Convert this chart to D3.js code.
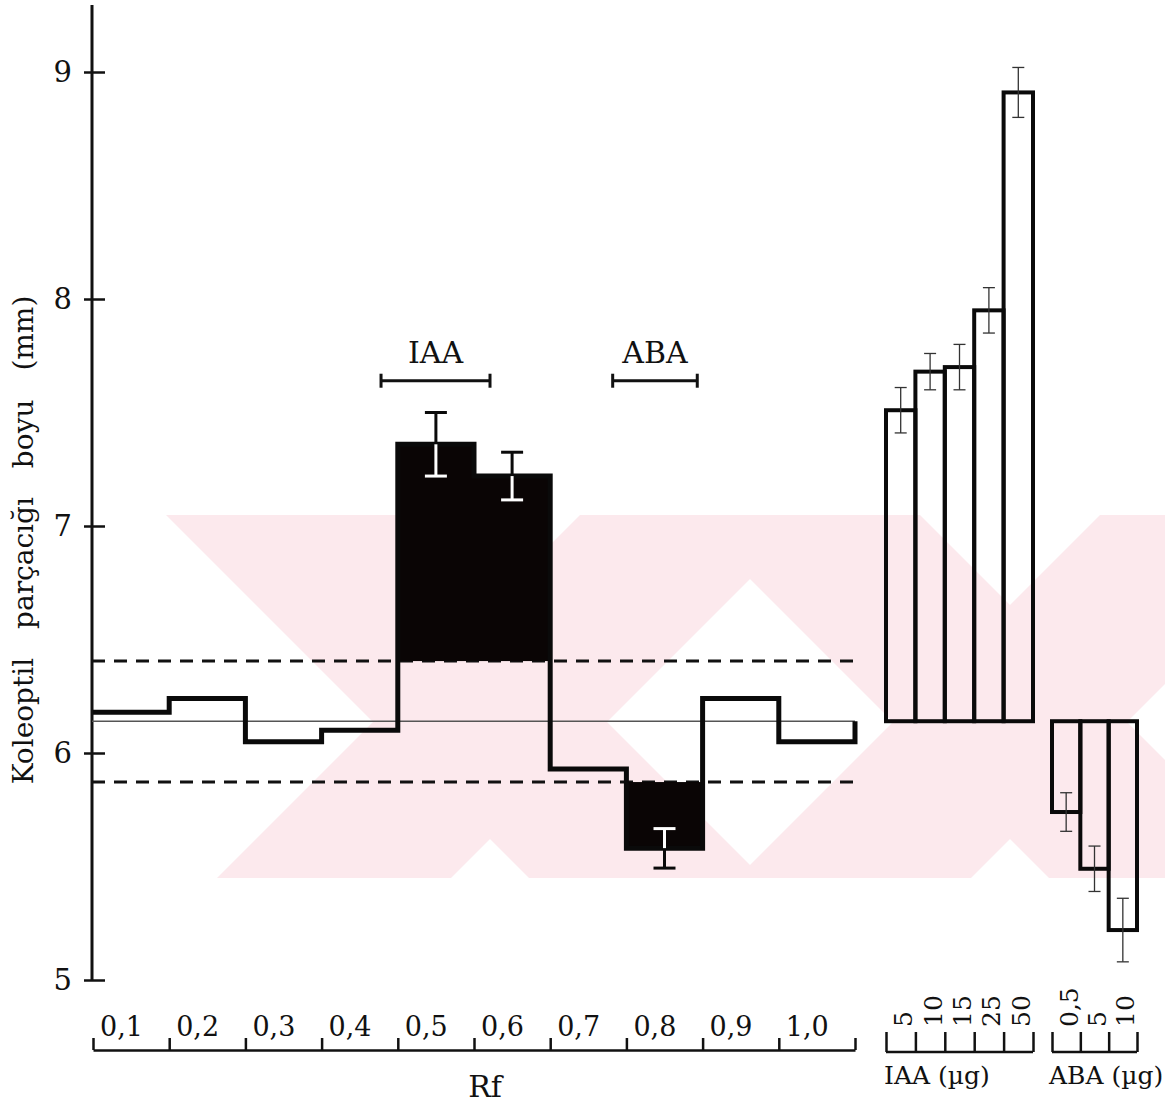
<!DOCTYPE html>
<html>
<head>
<meta charset="utf-8">
<script src="https://cdn.jsdelivr.net/npm/d3@7"></script>
<style>
  body { margin: 0; background: #fff; }
  svg text { font-family: "DejaVu Serif", serif; fill: #111; }
</style>
</head>
<body>
<div id="chart"></div>
<script>
// Rf histogram (koleoptil segment length, mm)
const rfLabels = ["0,1", "0,2", "0,3", "0,4", "0,5", "0,6", "0,7", "0,8", "0,9", "1,0"]
const rfValues = [6.18, 6.24, 6.05, 6.10, 7.36, 7.22, 5.93, 5.58, 6.24, 6.05]
const rfErrors = [null, null, null, null, 0.14, 0.105, null, 0.087, null, null]
const controlValue = 6.14
const upperLimit = 6.405
const lowerLimit = 5.872

// Rf ranges of the standards
const standardNames = ["IAA", "ABA"]
const standardRanges = [[0.378, 0.521], [0.682, 0.793]]

// standard dose responses
const iaaDoses = ["5", "10", "15", "25", "50"]
const iaaValues = [7.51, 7.68, 7.70, 7.95, 8.91]
const iaaErrors = [0.10, 0.08, 0.10, 0.10, 0.11]
const abaDoses = ["0,5", "5", "10"]
const abaValues = [5.74, 5.49, 5.22]
const abaErrors = [0.085, 0.10, 0.14]

const yTicks = [5, 6, 7, 8, 9]

const width = 1165
const height = 1115

const svg = d3.select("#chart").append("svg")
  .attr("width", width)
  .attr("height", height)

const y = d3.scaleLinear().domain([5, 9]).range([980, 72])
const x = d3.scaleLinear().domain([0, 1]).range([93, 855])
const xIaa = d3.scaleBand().domain(iaaDoses).range([886, 1033])
const xAba = d3.scaleBand().domain(abaDoses).range([1052, 1137])

// pale watermark of the scanned page (two large crosses)
svg.append("clipPath")
  .attr("id", "wm-clip")
  .append("rect")
    .attr("x", 165).attr("y", 515)
    .attr("width", 1000).attr("height", 363)
const wm = svg.append("g").attr("clip-path", "url(#wm-clip)")
const armHalf = 117
const reach = 420
;[490, 1010].forEach(function(cx) {
  const cy = 722
  const arms = [
    [[cx - reach - armHalf, cy - reach], [cx - reach + armHalf, cy - reach], [cx + reach + armHalf, cy + reach], [cx + reach - armHalf, cy + reach]],
    [[cx + reach - armHalf, cy - reach], [cx + reach + armHalf, cy - reach], [cx - reach + armHalf, cy + reach], [cx - reach - armHalf, cy + reach]]
  ]
  arms.forEach(function(pts) {
    wm.append("path")
      .attr("d", d3.line()(pts) + "Z")
      .attr("fill", "#fce9ed")
  })
})

// y axis
const yAxis = svg.append("g")
  .attr("transform", "translate(92,0)")
  .call(d3.axisLeft(y).tickValues(yTicks).tickFormat(d3.format("d"))
    .tickSizeInner(-13).tickSizeOuter(0).tickPadding(20))
yAxis.select(".domain").remove()
yAxis.selectAll(".tick line")
  .attr("x1", -8)
  .attr("stroke", "#111")
  .attr("stroke-width", 2.5)
yAxis.selectAll(".tick text")
  .attr("font-size", 29)
  .attr("font-family", "DejaVu Serif")
  .attr("fill", "#111")
yAxis.append("line")
  .attr("y1", y(5))
  .attr("y2", 5)
  .attr("stroke", "#111")
  .attr("stroke-width", 3)

svg.append("text")
  .attr("transform", "translate(33,540) rotate(-90)")
  .attr("text-anchor", "middle")
  .attr("font-size", 28)
  .attr("word-spacing", 20)
  .text("Koleoptil parçacığı boyu (mm)")

// control line and limits
svg.append("line")
  .attr("x1", 92).attr("x2", x(1))
  .attr("y1", y(controlValue)).attr("y2", y(controlValue))
  .attr("stroke", "#555")
  .attr("stroke-width", 1.5)

svg.selectAll(".limit")
  .data([upperLimit, lowerLimit])
  .enter()
  .append("line")
    .attr("class", "limit")
    .attr("x1", 92).attr("x2", x(1))
    .attr("y1", d => y(d)).attr("y2", d => y(d))
    .attr("stroke", "#111")
    .attr("stroke-width", 3)
    .attr("stroke-dasharray", "13,9")

// shaded (significant) parts
const rfData = rfValues.map((v, i) => ({ i: i, v: v, e: rfErrors[i] }))
const signif = rfData.filter(d => d.v > upperLimit || d.v < lowerLimit)

svg.selectAll(".fill")
  .data(signif)
  .enter()
  .append("rect")
    .attr("class", "fill")
    .attr("x", d => x(d.i / 10))
    .attr("width", d => x((d.i + 1) / 10) - x(d.i / 10))
    .attr("y", d => d.v > upperLimit ? y(d.v) : y(lowerLimit))
    .attr("height", d => d.v > upperLimit ? y(upperLimit) - y(d.v) : y(d.v) - y(lowerLimit))
    .attr("fill", "#0a0505")

// histogram outline
const stepPts = rfValues.map((v, i) => [i / 10, v])
  .concat([[1, rfValues[rfValues.length - 1]], [1, controlValue]])
svg.append("path")
  .attr("d", d3.line().x(d => x(d[0])).y(d => y(d[1])).curve(d3.curveStepAfter)(stepPts))
  .attr("fill", "none")
  .attr("stroke", "#0a0a0a")
  .attr("stroke-width", 5)

// error bars on the histogram: white inside the black, black outside
rfData.filter(d => d.e).forEach(function(d) {
  const cx = x((d.i + 0.5) / 10)
  const up = d.v > upperLimit
  const parts = [
    { a: d.v, b: d.v + d.e, inside: !up },
    { a: d.v, b: d.v - d.e, inside: up }
  ]
  parts.forEach(function(p) {
    const col = p.inside ? "#fff" : "#0a0a0a"
    svg.append("line")
      .attr("x1", cx).attr("x2", cx)
      .attr("y1", y(p.a)).attr("y2", y(p.b))
      .attr("stroke", col).attr("stroke-width", 3)
    svg.append("line")
      .attr("x1", cx - 11).attr("x2", cx + 11)
      .attr("y1", y(p.b)).attr("y2", y(p.b))
      .attr("stroke", col).attr("stroke-width", 3)
  })
})

// standard brackets
const bracketY = y(7.64)
standardNames.forEach(function(name, k) {
  const r = standardRanges[k]
  const g = svg.append("g")
  g.append("line")
    .attr("x1", x(r[0])).attr("x2", x(r[1]))
    .attr("y1", bracketY).attr("y2", bracketY)
    .attr("stroke", "#111").attr("stroke-width", 3)
  g.selectAll("line.end")
    .data(r)
    .enter()
    .append("line")
      .attr("class", "end")
      .attr("x1", d => x(d)).attr("x2", d => x(d))
      .attr("y1", bracketY - 7).attr("y2", bracketY + 7)
      .attr("stroke", "#111").attr("stroke-width", 3)
  g.append("text")
    .attr("x", x((r[0] + r[1]) / 2))
    .attr("y", bracketY - 18)
    .attr("text-anchor", "middle")
    .attr("font-size", 30)
    .text(name)
})

// dose-response bars
function doseBars(doses, values, errors, xs) {
  const data = doses.map((d, i) => ({ d: d, v: values[i], e: errors[i] }))
  const g = svg.append("g")
  g.selectAll("rect")
    .data(data)
    .enter()
    .append("rect")
      .attr("x", d => xs(d.d))
      .attr("width", xs.bandwidth())
      .attr("y", d => y(Math.max(d.v, controlValue)))
      .attr("height", d => Math.abs(y(d.v) - y(controlValue)))
      .attr("fill", "none")
      .attr("stroke", "#0a0a0a")
      .attr("stroke-width", 4)
  const eb = g.selectAll(".err")
    .data(data)
    .enter()
    .append("g")
      .attr("class", "err")
      .attr("stroke", "#333")
      .attr("stroke-width", 1.3)
  eb.append("line")
    .attr("x1", d => xs(d.d) + xs.bandwidth() / 2)
    .attr("x2", d => xs(d.d) + xs.bandwidth() / 2)
    .attr("y1", d => y(d.v + d.e))
    .attr("y2", d => y(d.v - d.e))
  eb.selectAll(".cap")
    .data(d => [d.v + d.e, d.v - d.e].map(val => ({ c: xs(d.d) + xs.bandwidth() / 2, val: val })))
    .enter()
    .append("line")
      .attr("x1", d => d.c - 6).attr("x2", d => d.c + 6)
      .attr("y1", d => y(d.val)).attr("y2", d => y(d.val))
}
doseBars(iaaDoses, iaaValues, iaaErrors, xIaa)
doseBars(abaDoses, abaValues, abaErrors, xAba)

// Rf axis
const rfAxis = svg.append("g")
  .attr("transform", "translate(0,1050)")
  .call(d3.axisTop(x).tickValues(d3.range(0, 11).map(i => i / 10)).tickSize(12).tickSizeOuter(0).tickFormat(""))
rfAxis.selectAll("path, line").attr("stroke", "#111").attr("stroke-width", 2.5)

svg.selectAll(".rflab")
  .data(rfLabels)
  .enter()
  .append("text")
    .attr("class", "rflab")
    .attr("x", (d, i) => x(i / 10) + 7)
    .attr("y", 1036)
    .attr("font-size", 27)
    .text(d => d)

svg.append("text")
  .attr("x", 485)
  .attr("y", 1097)
  .attr("text-anchor", "middle")
  .attr("font-size", 30)
  .text("Rf")

// dose axes
function doseAxis(doses, xs, title, titleX) {
  const pos = doses.map(d => xs(d)).concat([xs.range()[1]])
  const ax = svg.append("g")
    .attr("transform", "translate(0,1052)")
    .call(d3.axisTop(d3.scaleIdentity()).tickValues(pos).tickSize(20).tickSizeOuter(0).tickFormat(""))
  ax.select(".domain").attr("d", "M" + pos[0] + ",0H" + pos[pos.length - 1])
  ax.selectAll("path, line").attr("stroke", "#111").attr("stroke-width", 2.5)
  svg.selectAll(".lab-" + title.slice(0, 3))
    .data(doses)
    .enter()
    .append("text")
      .attr("transform", d => "translate(" + (xs(d) + xs.bandwidth() / 2 + 3) + ",1027) rotate(-90)")
      .attr("dominant-baseline", "central")
      .attr("font-size", 25)
      .text(d => d)
  svg.append("text")
    .attr("x", titleX)
    .attr("y", 1084)
    .attr("font-size", 25)
    .text(title)
}
doseAxis(iaaDoses, xIaa, "IAA (µg)", 884)
doseAxis(abaDoses, xAba, "ABA (µg)", 1049)
</script>
</body>
</html>
